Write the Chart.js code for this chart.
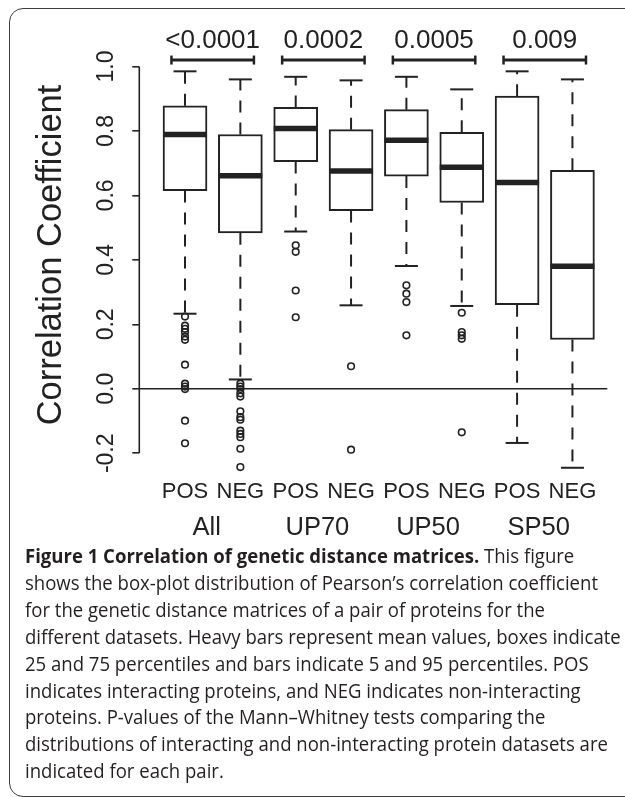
<!DOCTYPE html>
<html>
<head>
<meta charset="utf-8">
<style>
  body {
    margin: 0;
    overflow: hidden;
    background: #fff;
    width: 625px;
    height: 797px;
    position: relative;
  }

  #frame {
    position: absolute;
    left: 9px;
    top: 8px;
    width: 640px;
    height: 789px;
    box-sizing: border-box;
    border: 1.5px solid #3c3c3c;
    border-radius: 14px 0 0 14px;
  }

  #plot {
    position: absolute;
    left: 0;
    top: 0;
  }

  #caption {
    position: absolute;
    left: 25px;
    top: 543px;
    font-family: 'Open Sans', sans-serif;
    font-size: 19.5px;
    line-height: 26.9px;
    color: #231f20;
    white-space: nowrap;
    transform-origin: 0 0;
  }
</style>
<script src="https://cdn.jsdelivr.net/npm/chart.js"></script>
</head>
<body>
<div id="frame"></div>
<canvas id="plot" width="625" height="545"></canvas>
<div id="caption">
<span><b>Figure 1 Correlation of genetic distance matrices.</b> This figure</span><br>
<span id="refLine">shows the box-plot distribution of Pearson’s correlation coefficient</span><br>
<span>for the genetic distance matrices of a pair of proteins for the</span><br>
<span>different datasets. Heavy bars represent mean values, boxes indicate</span><br>
<span>25 and 75 percentiles and bars indicate 5 and 95 percentiles. POS</span><br>
<span>indicates interacting proteins, and NEG indicates non-interacting</span><br>
<span>proteins. P-values of the Mann–Whitney tests comparing the</span><br>
<span>distributions of interacting and non-interacting protein datasets are</span><br>
<span>indicated for each pair.</span>
</div>

<script>
// groups and subsets, one box per (group, subset), POS then NEG
const groups = ['All', 'UP70', 'UP50', 'SP50'];
const subsets = ['POS', 'NEG'];
const pValues = ['<0.0001', '0.0002', '0.0005', '0.009'];

// box statistics, same order as the boxes
const whiskerHigh = [0.985, 0.960, 0.968, 0.957, 0.968, 0.929, 0.985, 0.960];
const q3 = [0.878, 0.789, 0.873, 0.804, 0.866, 0.796, 0.908, 0.678];
const median = [0.789, 0.661, 0.808, 0.676, 0.771, 0.687, 0.640, 0.380];
const q1 = [0.615, 0.484, 0.705, 0.553, 0.660, 0.578, 0.261, 0.153];
const whiskerLow = [0.233, 0.029, 0.488, 0.259, 0.381, 0.257, -0.168, -0.245];
const outliers = [
    [0.224, 0.196, 0.186, 0.176, 0.162, 0.152, 0.075, 0.016, 0.007, -0.001, -0.099, -0.169],
    [0.016, 0.007, -0.001, -0.014, -0.024, -0.070, -0.088, -0.096, -0.130, -0.140, -0.150, -0.186, -0.243],
    [0.445, 0.425, 0.305, 0.222],
    [0.070, -0.189],
    [0.321, 0.295, 0.269, 0.166],
    [0.236, 0.176, 0.166, 0.155, -0.135],
    [],
    []
];

const yTicks = [-0.2, 0, 0.2, 0.4, 0.6, 0.8, 1.0];
const yTickLabels = ['-0.2', '0.0', '0.2', '0.4', '0.6', '0.8', '1.0'];

const ink = '#222';
const font = '"Liberation Sans", Arial, sans-serif';
const xMin = 0.174, xMax = 8.63;
const bracketY = 1.02;

// whiskers: q3 -> upper cap, q1 -> lower cap, gaps between
const whiskerPts = [];
q1.forEach((v, i) => {
    whiskerPts.push({ x: i + 1, y: q3[i] }, { x: i + 1, y: whiskerHigh[i] }, { x: i + 1, y: null });
    whiskerPts.push({ x: i + 1, y: v }, { x: i + 1, y: whiskerLow[i] }, { x: i + 1, y: null });
});

const capPts = [];
whiskerHigh.forEach((v, i) => capPts.push({ x: i + 1, y: v }, { x: i + 1, y: whiskerLow[i] }));

const outlierPts = [];
outliers.forEach((list, i) => list.forEach(v => outlierPts.push({ x: i + 1, y: v })));

const bracketPts = [];
pValues.forEach((p, k) => {
    bracketPts.push({ x: 2 * k + 1 - 0.245, y: bracketY }, { x: 2 * k + 2 + 0.245, y: bracketY }, { x: 2 * k + 2, y: null });
});

const textPlugin = {
    id: 'boxText',
    afterDraw(chart) {
        const { ctx, chartArea } = chart;
        const xs = chart.scales.x, ys = chart.scales.y;
        const axisBottom = ys.getPixelForValue(yTicks[0]);
        const axisTop = ys.getPixelForValue(yTicks[yTicks.length - 1]);

        ctx.save();
        // R style axis line, only over the tick range
        ctx.strokeStyle = ink;
        ctx.lineWidth = 1.6;
        ctx.beginPath();
        ctx.moveTo(chartArea.left, axisBottom);
        ctx.lineTo(chartArea.left, axisTop);
        ctx.stroke();

        ctx.fillStyle = ink;
        ctx.textAlign = 'center';
        ctx.textBaseline = 'alphabetic';

        // rotated y tick labels
        ctx.font = '23px ' + font;
        yTicks.forEach((v, i) => {
            ctx.save();
            ctx.translate(chartArea.left - 26, ys.getPixelForValue(v));
            ctx.rotate(-Math.PI / 2);
            ctx.fillText(yTickLabels[i], 0, 0);
            ctx.restore();
        });

        // y title
        ctx.font = '34.5px ' + font;
        ctx.save();
        ctx.translate(61, 255);
        ctx.rotate(-Math.PI / 2);
        ctx.fillText('Correlation Coefficient', 0, 0);
        ctx.restore();

        // p-values above brackets
        ctx.font = '26px ' + font;
        pValues.forEach((p, k) => {
            ctx.fillText(p, xs.getPixelForValue(2 * k + 1.5), ys.getPixelForValue(bracketY) - 12);
        });

        // POS / NEG under each box
        ctx.font = '22px ' + font;
        q1.forEach((v, i) => {
            ctx.fillText(subsets[i % 2], xs.getPixelForValue(i + 1), axisBottom + 45);
        });

        // group names
        ctx.font = '25.5px ' + font;
        groups.forEach((g, k) => {
            ctx.fillText(g, xs.getPixelForValue(2 * k + 1.5) - 6, axisBottom + 82);
        });
        ctx.restore();
    }
};

new Chart(document.getElementById('plot'), {
    type: 'bar',
    data: {
        datasets: [
            {
                type: 'line',
                data: whiskerPts,
                borderColor: ink,
                borderWidth: 2,
                borderDash: [12, 10],
                pointRadius: 0,
                spanGaps: false,
                clip: false,
                order: 10
            },
            {
                type: 'bar',
                data: q1.map((v, i) => ({ x: i + 1, y: [v, q3[i]] })),
                backgroundColor: '#fff',
                borderColor: ink,
                borderWidth: 2,
                borderSkipped: false,
                barThickness: 44,
                clip: false,
                order: 9
            },
            {
                type: 'scatter',
                data: median.map((v, i) => ({ x: i + 1, y: v })),
                pointStyle: 'line',
                pointRadius: 22,
                borderColor: ink,
                borderWidth: 5.5,
                clip: false,
                order: 8
            },
            {
                type: 'scatter',
                data: capPts,
                pointStyle: 'line',
                pointRadius: 11.5,
                borderColor: ink,
                borderWidth: 2,
                clip: false,
                order: 8
            },
            {
                type: 'line',
                data: [{ x: xMin, y: 0 }, { x: xMax, y: 0 }],
                borderColor: ink,
                borderWidth: 1.6,
                pointRadius: 0,
                clip: false,
                order: 7
            },
            {
                type: 'scatter',
                data: outlierPts,
                pointStyle: 'circle',
                pointRadius: 3.3,
                borderColor: ink,
                borderWidth: 1.6,
                backgroundColor: 'rgba(0,0,0,0)',
                clip: false,
                order: 6
            },
            {
                type: 'line',
                data: bracketPts,
                borderColor: ink,
                borderWidth: 3,
                pointStyle: 'line',
                pointRotation: 90,
                pointRadius: 4.5,
                pointBorderWidth: 2.5,
                spanGaps: false,
                clip: false,
                order: 5
            }
        ]
    },
    options: {
        responsive: false,
        animation: false,
        devicePixelRatio: 1,
        layout: { autoPadding: false, padding: { left: 132.3, right: 17.7, top: 53.6, bottom: 72.4 } },
        plugins: { legend: { display: false }, tooltip: { enabled: false } },
        scales: {
            x: { type: 'linear', min: xMin, max: xMax, offset: false, display: false },
            y: {
                type: 'linear',
                min: -0.26,
                max: 1.04,
                afterFit: s => { s.width = 7; },
                afterBuildTicks: s => { s.ticks = yTicks.map(v => ({ value: v })); },
                ticks: { display: false },
                grid: { drawOnChartArea: false, drawTicks: true, tickLength: 7, color: ink, lineWidth: 1.6 },
                border: { display: false }
            }
        }
    },
    plugins: [textPlugin]
});

// squeeze caption to the measured text width of the reference
const cap = document.getElementById('caption');
const w = document.getElementById('refLine').getBoundingClientRect().width;
cap.style.transform = 'scaleX(' + (573 / w) + ')';
</script>
</body>
</html>
